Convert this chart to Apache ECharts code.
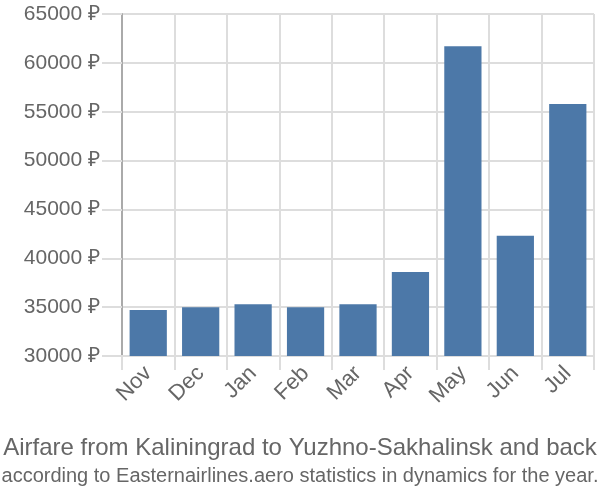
<!DOCTYPE html>
<html>
<head>
<meta charset="utf-8">
<script src="https://cdn.jsdelivr.net/npm/echarts@6/dist/echarts.min.js"></script>
<style>html,body{margin:0;padding:0;background:#fff;}#c{width:600px;height:500px;}</style>
</head>
<body>
<div id="c"></div>
<script>
const categories = ['Nov','Dec','Jan','Feb','Mar','Apr','May','Jun','Jul'];
const prices = [34700, 35000, 35300, 35000, 35300, 38600, 61700, 42300, 55800];
const yTicks = {min: 30000, max: 65000, interval: 5000};
const titleText = 'Airfare from Kaliningrad to Yuzhno-Sakhalinsk and back';
const subtitleText = 'according to Easternairlines.aero statistics in dynamics for the year.';

const chart = echarts.init(document.getElementById('c'), null, {renderer: 'canvas'});
chart.setOption({
  animation: false,
  backgroundColor: '#fff',
  textStyle: {fontFamily: 'Liberation Sans, Arial, sans-serif'},
  title: {
    text: titleText,
    subtext: subtitleText,
    left: 'center',
    top: 431,
    itemGap: 6,
    textStyle: {fontSize: 24, fontWeight: 'normal', color: '#666', fontFamily: 'Liberation Sans'},
    subtextStyle: {fontSize: 20, color: '#666', fontFamily: 'Liberation Sans'}
  },
  grid: {left: 122, right: 6, top: 14, bottom: 144, containLabel: false},
  xAxis: {
    type: 'category',
    data: categories,
    axisLine: {show: true, lineStyle: {color: '#ddd', width: 2}},
    axisTick: {show: true, length: 14, lineStyle: {color: '#ddd', width: 2}},
    splitLine: {show: true, lineStyle: {color: '#ddd', width: 2}},
    axisLabel: {rotate: 45, fontSize: 22, color: '#666', margin: 14, fontFamily: 'Liberation Sans'}
  },
  yAxis: {
    type: 'value',
    min: yTicks.min, max: yTicks.max, interval: yTicks.interval,
    axisLine: {show: true, lineStyle: {color: '#aaa', width: 2}},
    axisTick: {show: true, length: 20, lineStyle: {color: '#ddd', width: 2}},
    splitLine: {show: true, lineStyle: {color: '#ddd', width: 2}},
    axisLabel: {formatter: function (v) { return v + ' ₽'; }, fontSize: 21, color: '#666', margin: 22, fontFamily: 'Liberation Sans'}
  },
  series: [{
    type: 'bar',
    data: prices,
    barCategoryGap: '29%',
    itemStyle: {color: '#4c78a8'}
  }]
});
</script>
</body>
</html>
